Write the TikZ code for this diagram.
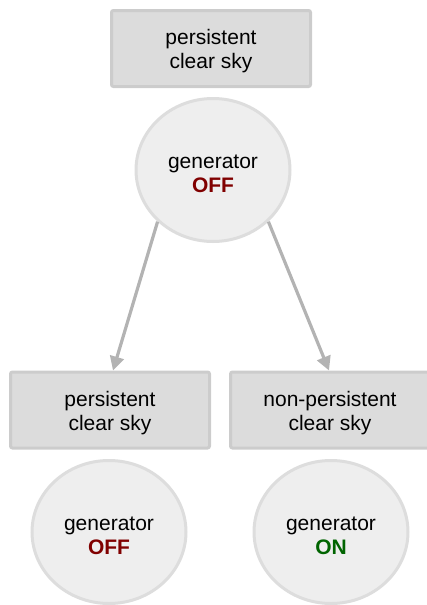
\documentclass[tikz,border=0pt]{standalone}
\usepackage{fontspec}
\setmainfont{Liberation Sans}
\usepackage{tikz}
\usetikzlibrary{shapes.geometric,arrows.meta}
\definecolor{boxfill}{HTML}{DCDCDC}
\definecolor{boxline}{HTML}{CCCCCC}
\definecolor{genfill}{HTML}{EEEEEE}
\definecolor{genline}{HTML}{DDDDDD}
\definecolor{arrowgray}{HTML}{B3B3B3}
\definecolor{offred}{HTML}{800000}
\definecolor{ongreen}{HTML}{006400}
\newcommand{\topgap}{\rule{0pt}{21pt}}

\begin{document}
\begin{tikzpicture}[x=1pt,y=-1pt]
\tikzset{
box/.style={ rectangle , rounded corners=2pt ,
minimum width=199pt , minimum height=76pt , inner sep=0pt ,
line width=3pt , draw=boxline , fill=boxfill ,
align=center , font=\fontsize{21}{24}\selectfont },
gen/.style={ ellipse , minimum width=154pt , minimum height=143pt ,
inner sep=0pt , line width=3pt , draw=genline , fill=genfill ,
align=center , font=\fontsize{21}{24}\selectfont },
link/.style={ draw=arrowgray , line width=3.2pt ,
-{Triangle[length=14pt,width=14pt]} }
}
\useasboundingbox (0,0) rectangle (426,605);

\node[box] (sky0) at (211,48.5) {\topgap persistent\\clear sky};
\node[gen] (gen0) at (213,170) {\topgap generator\\\textcolor{offred}{\bfseries OFF}};

\node[box] (sky1) at (110,410) {\topgap persistent\\clear sky};
\node[box] (sky2) at (330,410) {\topgap non-persistent\\clear sky};

\node[gen] (gen1) at (109,532) {\topgap generator\\\textcolor{offred}{\bfseries OFF}};
\node[gen] (gen2) at (331,532) {\topgap generator\\\textcolor{ongreen}{\bfseries ON}};

\draw[link] (gen0.223) -- ([xshift=3pt]sky1.north);
\draw[link] (gen0.317) -- ([xshift=-1pt]sky2.north);

\end{tikzpicture}
\end{document}
